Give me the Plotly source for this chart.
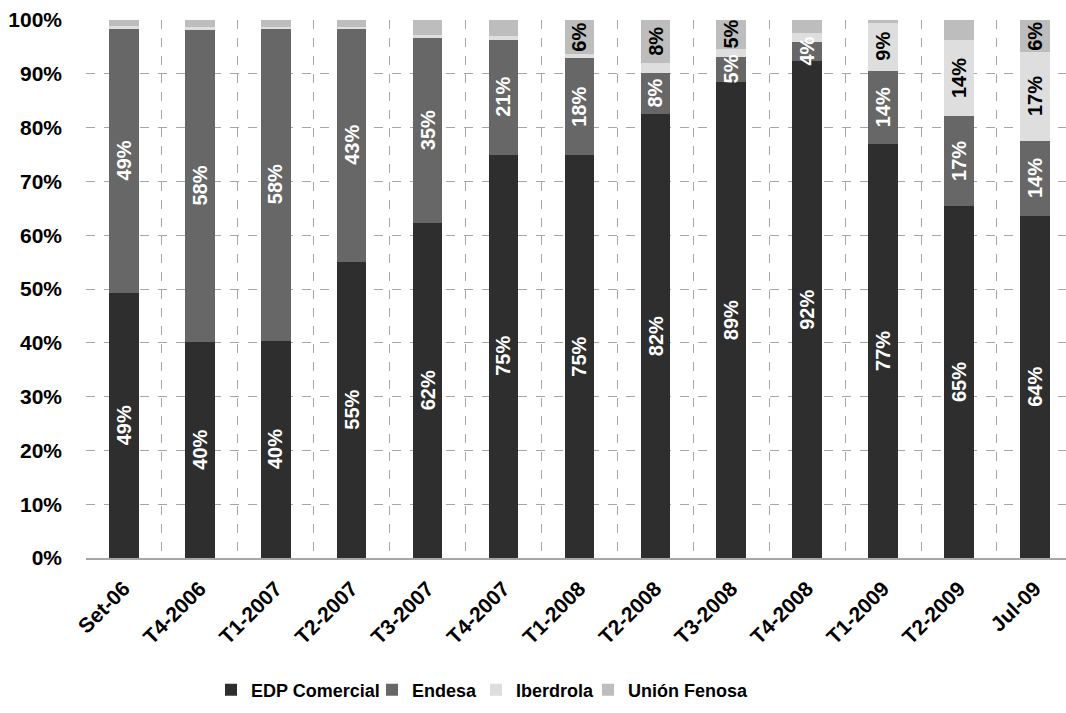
import plotly.graph_objects as go

categories = ["Set-06", "T4-2006", "T1-2007", "T2-2007", "T3-2007", "T4-2007", "T1-2008",
              "T2-2008", "T3-2008", "T4-2008", "T1-2009", "T2-2009", "Jul-09"]

edp = [49.3, 40.2, 40.4, 55.0, 62.2, 75.0, 75.0, 82.6, 88.5, 92.3, 77.0, 65.4, 63.6]
endesa = [49.2, 58.0, 58.1, 43.5, 34.5, 21.3, 17.9, 7.6, 4.7, 3.7, 13.6, 16.8, 14.0]
iberdrola = [0.3, 0.5, 0.2, 0.2, 0.6, 0.8, 0.7, 1.8, 1.5, 1.6, 8.9, 14.0, 16.5]
union_fenosa = [1.2, 1.3, 1.3, 1.3, 2.7, 2.9, 6.4, 8.0, 5.3, 2.4, 0.5, 3.8, 5.9]

edp_labels = ["49%", "40%", "40%", "55%", "62%", "75%", "75%", "82%", "89%", "92%", "77%", "65%", "64%"]
endesa_labels = ["49%", "58%", "58%", "43%", "35%", "21%", "18%", "8%", "5%", "4%", "14%", "17%", "14%"]
iberdrola_labels = ["", "", "", "", "", "", "", "", "", "", "9%", "14%", "17%"]
fenosa_labels = ["", "", "", "", "", "", "6%", "8%", "5%", "", "", "", "6%"]

series_names = ["EDP Comercial", "Endesa", "Iberdrola", "Unión Fenosa"]
y_ticks = [0, 10, 20, 30, 40, 50, 60, 70, 80, 90, 100]

FONT = "Liberation Sans, Arial, sans-serif"
colors = ["#2e2e2e", "#676767", "#dedede", "#bdbdbd"]
label_colors = ["white", "white", "black", "black"]
legend_ids = ["legend", "legend2", "legend3", "legend4"]
legend_x_px = [211, 372, 476, 588]

series = [edp, endesa, iberdrola, union_fenosa]
labels = [edp_labels, endesa_labels, iberdrola_labels, fenosa_labels]

fig = go.Figure()
for name, vals, col, lg in zip(series_names, series, colors, legend_ids):
    fig.add_trace(go.Bar(
        x=categories, y=vals, name=name,
        marker=dict(color=col, line=dict(width=0)),
        width=0.39, legend=lg,
    ))

annotations = []
for i, cat in enumerate(categories):
    base = 0.0
    for s, vals in enumerate(series):
        v = vals[i]
        txt = labels[s][i]
        if txt:
            annotations.append(dict(
                x=cat, y=base + v / 2, xref="x", yref="y",
                text=txt, showarrow=False, textangle=-90,
                font=dict(family=FONT, size=20, color=label_colors[s], weight="bold"),
            ))
        base += v

legend_font = dict(family=FONT, size=18, color="black", weight="bold")
legend_layouts = {}
for lg, xp in zip(legend_ids, legend_x_px):
    legend_layouts[lg] = dict(
        orientation="h", xref="container", yref="container",
        x=xp / 1066, xanchor="left", y=1 - 690 / 713, yanchor="middle",
        itemwidth=30, font=legend_font, bgcolor="rgba(0,0,0,0)",
    )

fig.update_layout(
    barmode="stack",
    width=1066, height=713,
    margin=dict(l=86, r=0, t=20, b=155),
    paper_bgcolor="white", plot_bgcolor="white",
    font=dict(family=FONT, size=20, color="black", weight="bold"),
    annotations=annotations,
    showlegend=True,
    **legend_layouts,
)

fig.update_xaxes(
    type="category", range=[-0.5, 12.41],
    tickson="boundaries", ticks="",
    showgrid=True, gridcolor="#a6a6a6", griddash="dash", gridwidth=1,
    showline=True, linecolor="#a6a6a6", linewidth=2,
    tickangle=-45, tickfont=dict(family=FONT, size=21, color="black", weight="bold"),
    ticklabelstandoff=8,
)
fig.update_yaxes(
    range=[0, 100], tickvals=y_ticks, ticktext=[f"{v}%" for v in y_ticks],
    showgrid=True, gridcolor="#a6a6a6", griddash="dash", gridwidth=1,
    zeroline=False, showline=False, ticks="",
    tickfont=dict(family=FONT, size=21, color="black", weight="bold"),
    ticklabelstandoff=23,
)

fig.write_html("out.html")
